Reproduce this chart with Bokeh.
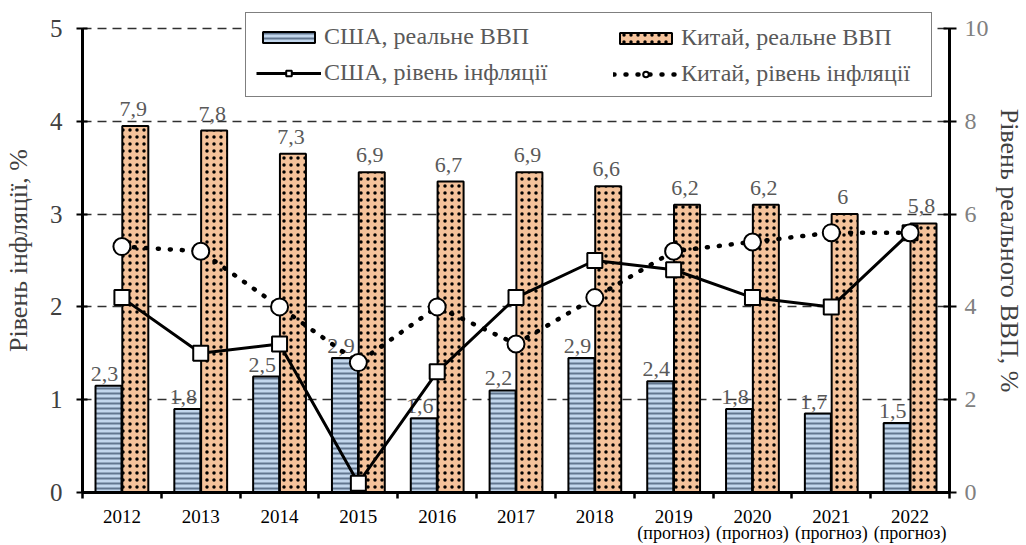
from bokeh.plotting import figure
from bokeh.models import Range1d, LinearAxis, FixedTicker, Legend, LegendItem, ColumnDataSource
from bokeh.core.properties import value
from bokeh.embed import file_html
from bokeh.resources import INLINE

years = ["2012", "2013", "2014", "2015", "2016", "2017", "2018", "2019", "2020", "2021", "2022"]
forecast_note = ["", "", "", "", "", "", "", "(прогноз)", "(прогноз)", "(прогноз)", "(прогноз)"]
usa_gdp = [2.3, 1.8, 2.5, 2.9, 1.6, 2.2, 2.9, 2.4, 1.8, 1.7, 1.5]
china_gdp = [7.9, 7.8, 7.3, 6.9, 6.7, 6.9, 6.6, 6.2, 6.2, 6.0, 5.8]
usa_infl = [2.1, 1.5, 1.6, 0.1, 1.3, 2.1, 2.5, 2.4, 2.1, 2.0, 2.8]
china_infl = [2.65, 2.6, 2.0, 1.4, 2.0, 1.6, 2.1, 2.6, 2.7, 2.8, 2.8]

SERIF = "Liberation Serif"
n = len(years)
centers = [i + 0.5 for i in range(n)]

def fmt(v):
    return f"{v:g}".replace(".", ",")

src = ColumnDataSource(dict(
    xc=centers,
    xu=[c - 0.17 for c in centers],
    xch=[c + 0.17 for c in centers],
    usa_gdp=usa_gdp, china_gdp=china_gdp,
    usa_infl=usa_infl, china_infl=china_infl,
    usa_lbl=[fmt(v) for v in usa_gdp],
    china_lbl=[fmt(v) for v in china_gdp],
))

# frame spans 8..492 px; the axes themselves run 0..5 and 0..10 (top at 28 px)
headroom = 484 / 464.0
p = figure(width=1026, height=545, x_range=Range1d(0, n), y_range=Range1d(0, 5 * headroom),
           output_backend="svg", toolbar_location=None,
           min_border_left=82, min_border_right=71, min_border_top=8, min_border_bottom=53)
p.outline_line_color = None
p.background_fill_color = "white"
p.extra_y_ranges = {"gdp": Range1d(0, 10 * headroom)}

# grid
p.xgrid.grid_line_color = None
p.ygrid.ticker = FixedTicker(ticks=[1, 2, 3, 4, 5])
p.ygrid.grid_line_color = "#303030"
p.ygrid.grid_line_dash = "9 6"
p.ygrid.grid_line_width = 1.6

# x axis (years)
xa = p.xaxis[0]
xa.ticker = FixedTicker(ticks=centers, minor_ticks=list(range(n + 1)))
xa.major_label_overrides = {c: t for c, t in zip(centers, years)}
xa.major_tick_line_color = None
xa.major_tick_in = 0
xa.major_tick_out = 6
xa.minor_tick_in = 0
xa.minor_tick_out = 6
xa.minor_tick_line_width = 2.5
xa.minor_tick_line_color = "black"
xa.axis_line_width = 3
xa.axis_line_color = "black"
xa.major_label_text_font = SERIF
xa.major_label_text_font_size = "19px"
xa.major_label_text_color = "black"
xa.major_label_standoff = 11

# second x axis row: forecast notes
fc_ticks = [c for c, t in zip(centers, forecast_note) if t]
xa2 = LinearAxis(ticker=FixedTicker(ticks=fc_ticks, minor_ticks=[]))
xa2.major_label_overrides = {c: t for c, t in zip(centers, forecast_note) if t}
xa2.axis_line_color = None
xa2.major_tick_line_color = None
xa2.minor_tick_line_color = None
xa2.major_tick_in = 0
xa2.major_tick_out = 0
xa2.major_label_text_font = SERIF
xa2.major_label_text_font_size = "18px"
xa2.major_label_text_color = "black"
xa2.major_label_standoff = -3
p.add_layout(xa2, "below")

# left axis
ya = p.yaxis[0]
ya.bounds = (0, 5)
ya.ticker = FixedTicker(ticks=[0, 1, 2, 3, 4, 5])
ya.minor_tick_line_color = None
ya.major_tick_in = 5
ya.major_tick_out = 6
ya.major_tick_line_width = 2
ya.axis_line_width = 3
ya.axis_line_color = "black"
ya.major_label_text_font = SERIF
ya.major_label_text_font_size = "25px"
ya.major_label_text_color = "#404040"
ya.major_label_standoff = 14
ya.axis_label = "Рівень інфляції, %"
ya.axis_label_text_font = SERIF
ya.axis_label_text_font_style = "normal"
ya.axis_label_text_font_size = "26px"
ya.axis_label_text_color = "#404040"
ya.axis_label_standoff = 14

# right axis
ra = LinearAxis(y_range_name="gdp", ticker=FixedTicker(ticks=[0, 2, 4, 6, 8, 10]))
ra.bounds = (0, 10)
ra.minor_tick_line_color = None
ra.major_tick_in = 6
ra.major_tick_out = 7
ra.major_tick_line_width = 2
ra.axis_line_width = 3
ra.axis_line_color = "black"
ra.major_label_text_font = SERIF
ra.major_label_text_font_size = "24px"
ra.major_label_text_color = "#808080"
ra.major_label_standoff = 8
ra.axis_label = "Рівень реального ВВП, %"
ra.axis_label_text_font = SERIF
ra.axis_label_text_font_style = "normal"
ra.axis_label_text_font_size = "26px"
ra.axis_label_text_color = "#404040"
ra.axis_label_standoff = 3
p.add_layout(ra, "right")

# bars
bw = 0.33
r_usa_bar = p.vbar(x="xu", top="usa_gdp", width=bw, source=src, y_range_name="gdp",
                   fill_color="#c3d7ed", line_color="black", line_width=2,
                   hatch_pattern="horizontal_line", hatch_color="#62768f",
                   hatch_scale=5, hatch_weight=2)
r_china_bar = p.vbar(x="xch", top="china_gdp", width=bw, source=src, y_range_name="gdp",
                     fill_color="#f5c39b", line_color="black", line_width=2,
                     hatch_pattern="dot", hatch_color="black",
                     hatch_scale=7, hatch_weight=3)

# bar labels
p.text(x="xu", y="usa_gdp", text="usa_lbl", source=src, y_range_name="gdp",
       text_font=value(SERIF), text_font_size=value("22px"), text_color="#595959",
       text_align="center", text_baseline="bottom", y_offset=-5, x_offset=-4)
p.text(x="xch", y="china_gdp", text="china_lbl", source=src, y_range_name="gdp",
       text_font=value(SERIF), text_font_size=value("22px"), text_color="#595959",
       text_align="center", text_baseline="bottom", y_offset=-10, x_offset=-2)

# lines
l_usa = p.line(x="xc", y="usa_infl", source=src, line_color="black", line_width=3)
s_usa = p.scatter(x="xc", y="usa_infl", source=src, marker="square", size=15,
                  fill_color="white", line_color="black", line_width=2)
l_ch = p.line(x="xc", y="china_infl", source=src, line_color="black", line_width=4.5,
              line_dash="1 11", line_cap="round")
s_ch = p.scatter(x="xc", y="china_infl", source=src, marker="circle", size=17,
                 fill_color="white", line_color="black", line_width=2)

def style_legend(lg):
    lg.ncols = 1
    lg.label_text_font = SERIF
    lg.label_text_font_size = "24px"
    lg.label_text_color = "#595959"
    lg.glyph_width = 65
    lg.glyph_height = 14
    lg.label_standoff = 3
    lg.padding = 10
    lg.spacing = 9
    lg.margin = 0

# left legend column (carries the frame box)
legend_a = Legend(items=[
    LegendItem(label="США, реальне ВВП", renderers=[r_usa_bar]),
    LegendItem(label="США, рівень інфляції", renderers=[l_usa, s_usa]),
])
style_legend(legend_a)
legend_a.location = (163, 395)
legend_a.border_line_color = "black"
legend_a.border_line_width = 1.5
legend_a.background_fill_color = "white"
legend_a.background_fill_alpha = 1
legend_a.label_width = 597

# right legend column
legend_b = Legend(items=[
    LegendItem(label="Китай, реальне ВВП", renderers=[r_china_bar]),
    LegendItem(label="Китай, рівень інфляції", renderers=[l_ch, s_ch]),
])
style_legend(legend_b)
legend_b.location = (531, 405)
legend_b.border_line_color = None
legend_b.background_fill_alpha = 0

p.add_layout(legend_a)
p.add_layout(legend_b)

open("out.html", "w").write(file_html(p, INLINE))
